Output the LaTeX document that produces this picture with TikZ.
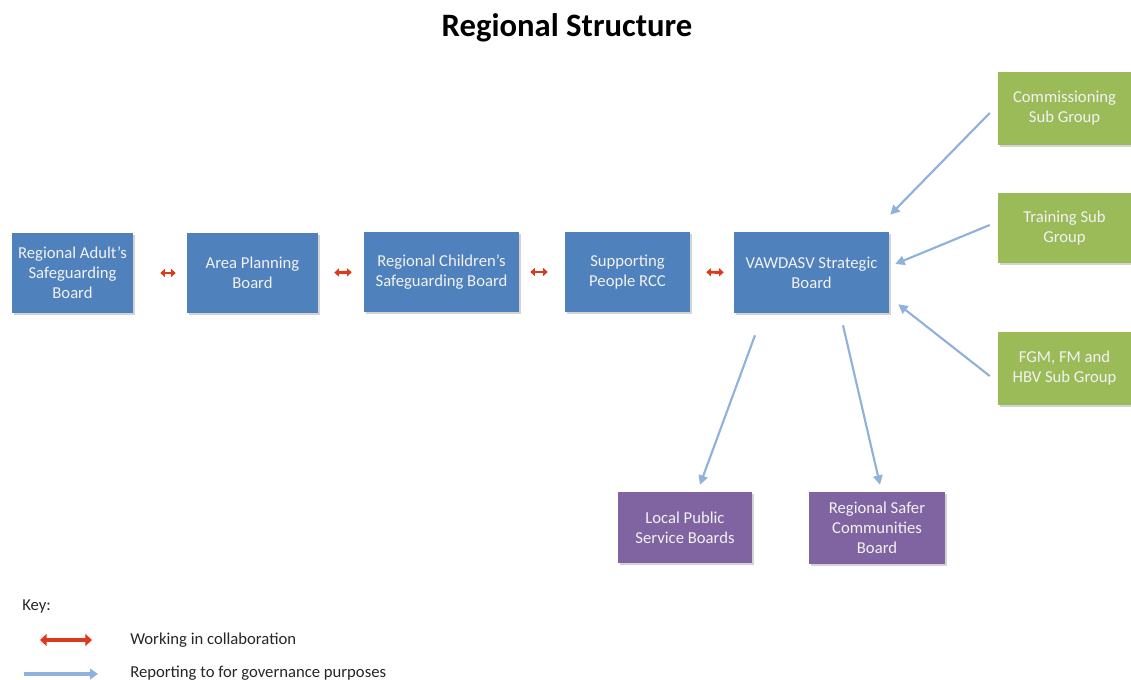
\documentclass[tikz,border=0pt]{standalone}
\usepackage{fontspec}
\setmainfont{Carlito}
\usetikzlibrary{arrows.meta,shadows,calc}
\definecolor{boxblue}{HTML}{4F81BD}
\definecolor{boxgreen}{HTML}{9BBB59}
\definecolor{boxpurple}{HTML}{8064A2}
\definecolor{boxtext}{HTML}{F2F2F2}
\definecolor{arrblue}{HTML}{8FB1DC}
\definecolor{arrred}{HTML}{E0381D}
\begin{document}
\begin{tikzpicture}[x=0.75pt,y=-0.75pt,
  orgbox/.style={draw=none,align=center,text=boxtext,inner sep=2pt,
     font=\fontsize{12.5}{15}\selectfont,
     drop shadow={opacity=0.35,shadow xshift=1.2pt,shadow yshift=-1.8pt}},
  bluebox/.style={orgbox,fill=boxblue},
  greenbox/.style={orgbox,fill=boxgreen},
  purplebox/.style={orgbox,fill=boxpurple},
  redarrow/.style={draw=arrred,line width=2.2pt,{Triangle[length=3.5pt,width=6pt]}-{Triangle[length=3.5pt,width=6pt]}},
  bluearrow/.style={draw=arrblue,line width=1.6pt,-{Triangle[length=7pt,width=7pt]}},
  keyred/.style={draw=arrred,line width=3.2pt,{Triangle[length=5pt,width=9pt]}-{Triangle[length=5pt,width=9pt]}},
  keyblue/.style={draw=arrblue,line width=2.8pt,-{Triangle[length=6pt,width=8pt]}},
  keytext/.style={anchor=west,font=\fontsize{12.5}{15}\selectfont,text=black!85,inner sep=0pt}
]
\useasboundingbox (0,0) rectangle (1131,680);

\node[font=\bfseries\fontsize{24.5}{29}\selectfont] (title) at (567,28) {Regional Structure};

\node[bluebox,minimum width=121*0.75pt,minimum height=80*0.75pt] (b1) at (72.5,273) {Regional Adult’s\\Safeguarding\\Board};
\node[bluebox,minimum width=131*0.75pt,minimum height=80*0.75pt] (b2) at (252.5,273) {Area Planning\\Board};
\node[bluebox,minimum width=155*0.75pt,minimum height=80*0.75pt] (b3) at (441.5,272) {Regional Children’s\\Safeguarding Board};
\node[bluebox,minimum width=125*0.75pt,minimum height=80*0.75pt] (b4) at (627.5,272) {Supporting\\People RCC};
\node[bluebox,minimum width=155*0.75pt,minimum height=81*0.75pt] (b5) at (811.5,272.5) {VAWDASV Strategic\\Board};

\node[greenbox,minimum width=133*0.75pt,minimum height=73*0.75pt] (g1) at (1064.5,108.5) {Commissioning\\Sub Group};
\node[greenbox,minimum width=133*0.75pt,minimum height=70*0.75pt] (g2) at (1064.5,228) {Training Sub\\Group};
\node[greenbox,minimum width=133*0.75pt,minimum height=73*0.75pt] (g3) at (1064.5,368.5) {FGM, FM and\\HBV Sub Group};

\node[purplebox,minimum width=134*0.75pt,minimum height=71*0.75pt] (p1) at (685,527.5) {Local Public\\Service Boards};
\node[purplebox,minimum width=136*0.75pt,minimum height=72*0.75pt] (p2) at (877,528) {Regional Safer\\Communities\\Board};

% collaboration arrows
\draw[redarrow,shorten <=27*0.75pt,shorten >=11*0.75pt] (b1.east) -- (b2.west);
\draw[redarrow,shorten <=16*0.75pt,shorten >=12*0.75pt] (b2.east) -- (b3.west);
\draw[redarrow,shorten <=11*0.75pt,shorten >=17*0.75pt] (b3.east) -- (b4.west);
\draw[redarrow,shorten <=16*0.75pt,shorten >=10*0.75pt] (b4.east) -- (b5.west);

% reporting arrows
\draw[bluearrow] ($(g1.west)+(-8,4.5)$) -- ($(b5.north east)+(1,-17)$);
\draw[bluearrow] ($(g2.west)+(-8,-3)$) -- ($(b5.east)+(6,-8.5)$);
\draw[bluearrow] ($(g3.west)+(-8,7.5)$) -- ($(b5.south east)+(9,-9)$);
\draw[bluearrow] ($(b5.south)+(-56.5,22)$) -- ($(p1.north)+(15,-7)$);
\draw[bluearrow] ($(b5.south)+(31.5,12)$) -- ($(p2.north)+(3,-7)$);

% key
\node[keytext] (key) at (22,606) {Key:};
\coordinate (kr1) at (40,640);
\coordinate (kr2) at (92,640);
\coordinate (kb1) at (24,674);
\coordinate (kb2) at (98,674);
\draw[keyred] (kr1) -- (kr2);
\draw[keyblue] (kb1) -- (kb2);
\node[keytext] (k1) at (130,640) {Working in collaboration};
\node[keytext] (k2) at (130,673) {Reporting to for governance purposes};
\end{tikzpicture}
\end{document}
